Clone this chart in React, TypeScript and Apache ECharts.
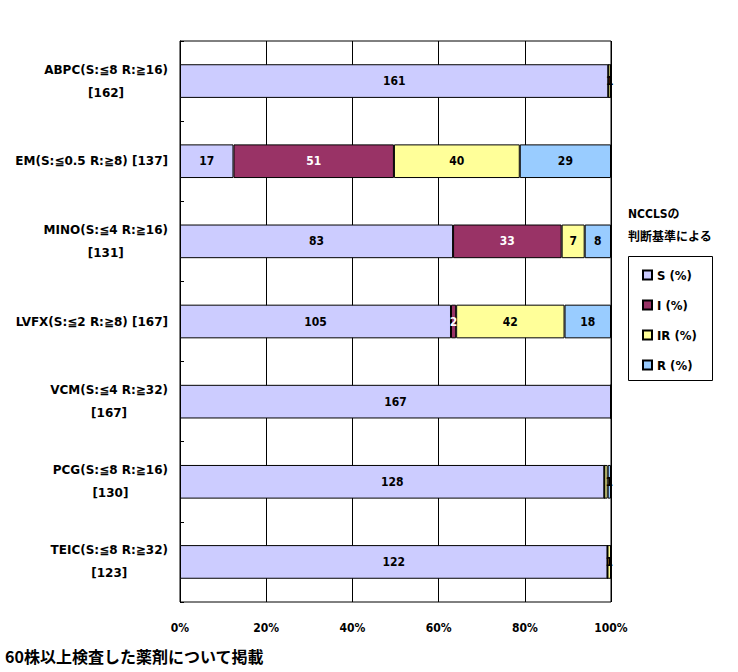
import React, { useEffect, useRef } from "react";
import * as echarts from "echarts";

const categories = [
  ["ABPC(S:≦8 R:≧16)", "[162]"],
  ["EM(S:≦0.5 R:≧8) [137]"],
  ["MINO(S:≦4 R:≧16)", "[131]"],
  ["LVFX(S:≦2 R:≧8) [167]"],
  ["VCM(S:≦4 R:≧32)", "[167]"],
  ["PCG(S:≦8 R:≧16)", "[130]"],
  ["TEIC(S:≦8 R:≧32)", "[123]"],
];
const seriesNames = ["S (%)", "I (%)", "IR (%)", "R (%)"];
const sCounts = [161, 17, 83, 105, 167, 128, 122];
const iCounts = [0, 51, 33, 2, 0, 0, 0];
const irCounts = [1, 40, 7, 42, 0, 1, 1];
const rCounts = [0, 29, 8, 18, 0, 1, 0];
const colors = ["#CCCCFF", "#993366", "#FFFF99", "#99CCFF"];
const labelColors = ["#000", "#fff", "#000", "#000"];
const xTicks = [0, 20, 40, 60, 80, 100];
const legendTitle = "NCCLSの\n判断基準による";
const footnote = "60株以上検査した薬剤について掲載";

const FONT = "'DejaVu Sans Condensed', 'Noto Sans CJK JP', sans-serif";
const CAT_FONT = "'DejaVu Sans', 'Noto Sans CJK JP', sans-serif";

export default function App() {
  const ref = useRef<HTMLDivElement>(null);
  useEffect(() => {
    if (!ref.current) return;
    const chart = echarts.init(ref.current, undefined, { renderer: "svg" });
    const all = [sCounts, iCounts, irCounts, rCounts];
    const totals = sCounts.map((_, i) => all.reduce((a, arr) => a + arr[i], 0));
    const catKeys = categories.map((c) => c.join("\n"));
    const series = all.map((arr, si) => ({
      name: seriesNames[si],
      type: "bar",
      stack: "total",
      barWidth: "42%",
      itemStyle: { color: colors[si], borderColor: "#000", borderWidth: 1 },
      labelLayout: { hideOverlap: true },
      label: {
        show: true,
        position: "inside",
        color: labelColors[si],
        fontFamily: FONT,
        fontWeight: "bold",
        fontSize: 12,
        formatter: (p: any) => (p.data.count ? String(p.data.count) : ""),
      },
      data: arr.map((c, i) => ({ value: (c / totals[i]) * 100, count: c })),
    }));
    chart.setOption({
      animation: false,
      title: {
        text: legendTitle,
        left: 628,
        top: 202,
        padding: 0,
        textStyle: { fontFamily: FONT, fontSize: 12, fontWeight: "bold", lineHeight: 23, color: "#000" },
      },
      legend: {
        orient: "vertical",
        left: 642,
        top: 268,
        padding: 0,
        itemWidth: 9,
        itemHeight: 9,
        itemGap: 16,
        icon: "rect",
        textStyle: { fontFamily: FONT, fontSize: 13, fontWeight: "bold", lineHeight: 14, color: "#000" },
        data: seriesNames,
      },
      graphic: [
        {
          type: "rect",
          shape: { x: 628.5, y: 256.5, width: 84, height: 124 },
          style: { fill: "none", stroke: "#000", lineWidth: 1 },
        },
        {
          type: "text",
          left: 5,
          top: 648,
          style: { text: footnote, font: "bold 16px 'Noto Sans CJK JP', sans-serif", fill: "#000" },
        },
      ],
      grid: {
        left: 180,
        top: 41,
        width: 431,
        height: 561,
        show: true,
        borderColor: "#000",
        borderWidth: 1,
        backgroundColor: "#fff",
      },
      xAxis: {
        type: "value",
        min: 0,
        max: 100,
        interval: 20,
        axisLine: { show: false },
        axisTick: { show: false },
        splitLine: { show: true, lineStyle: { color: "#000", width: 1 } },
        axisLabel: {
          margin: 20,
          color: "#000",
          fontFamily: FONT,
          fontWeight: "bold",
          fontSize: 12,
          formatter: (v: number) => (xTicks.includes(v) ? `${v}%` : ""),
        },
      },
      yAxis: {
        type: "category",
        inverse: true,
        data: catKeys,
        axisLine: { show: true, lineStyle: { color: "#000" } },
        axisTick: { show: true, inside: true, length: 4, lineStyle: { color: "#000" } },
        axisLabel: {
          margin: 12,
          color: "#000",
          formatter: (v: string) => v.split("\n").map((l) => `{a|${l}}`).join("\n"),
          rich: {
            a: {
              align: "center",
              fontFamily: CAT_FONT,
              fontWeight: "bold",
              fontSize: 12,
              lineHeight: 23,
              color: "#000",
            },
          },
        },
      },
      series,
    });
    return () => chart.dispose();
  }, []);
  return (
    <div
      ref={ref}
      style={{ position: "absolute", left: 0, top: 0, width: 738, height: 672, background: "#fff" }}
    />
  );
}
